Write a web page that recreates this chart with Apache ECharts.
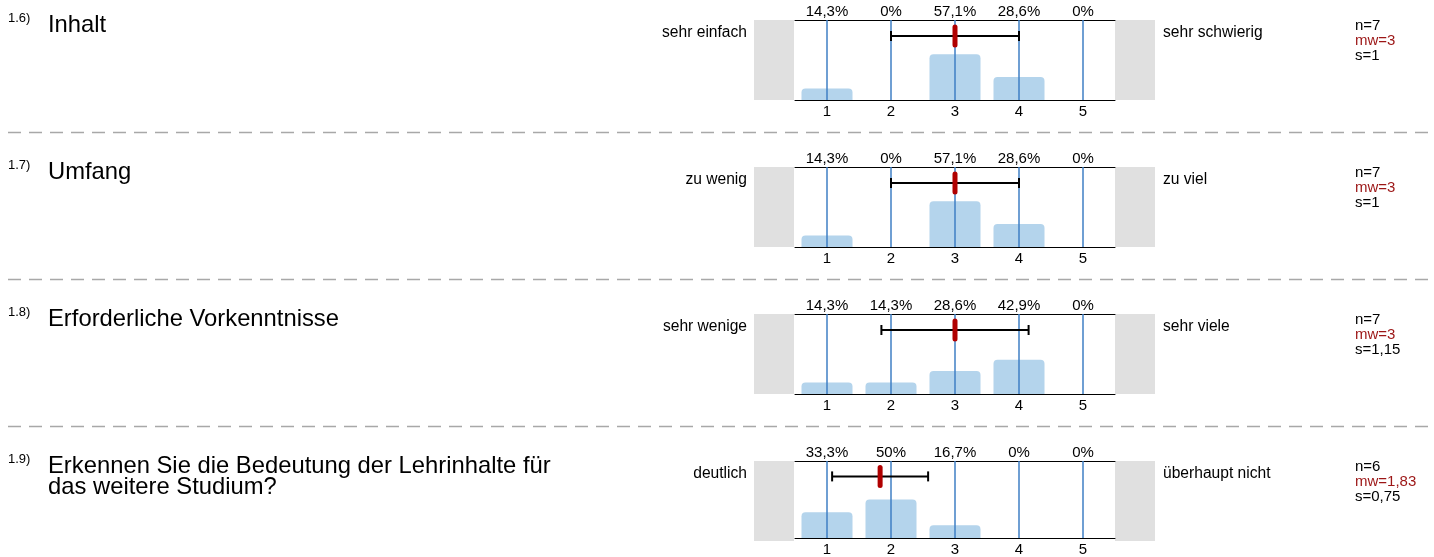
<!DOCTYPE html>
<html>
<head>
<meta charset="utf-8">
<script src="https://cdn.jsdelivr.net/npm/echarts@6/dist/echarts.min.js"></script>
<style>html,body{margin:0;padding:0;background:#fff}#c{width:1434px;height:557px}</style>
</head>
<body>
<div id="c"></div>
<script>
const categories = ['1', '2', '3', '4', '5'];
const questionNumbers = ['1.6)', '1.7)', '1.8)', '1.9)'];
const questionTitles = ['Inhalt', 'Umfang', 'Erforderliche Vorkenntnisse', 'Erkennen Sie die Bedeutung der Lehrinhalte für\ndas weitere Studium?'];
const leftLabels = ['sehr einfach', 'zu wenig', 'sehr wenige', 'deutlich'];
const rightLabels = ['sehr schwierig', 'zu viel', 'sehr viele', 'überhaupt nicht'];
const pct16 = [14.3, 0, 57.1, 28.6, 0];
const pct17 = [14.3, 0, 57.1, 28.6, 0];
const pct18 = [14.3, 14.3, 28.6, 42.9, 0];
const pct19 = [33.3, 50, 16.7, 0, 0];
const percentages = [pct16, pct17, pct18, pct19];
const nValues = [7, 7, 7, 6];
const meanValues = [3, 3, 3, 1.83];
const sdValues = [1, 1, 1.15, 0.75];

const FONT = '"Liberation Sans", Arial, Helvetica, sans-serif';
const fmt = v => String(v).replace('.', ',');
const PANEL_TOP = 20, PANEL_STEP = 147, PLOT_LEFT = 795, PLOT_W = 320, PLOT_H = 80;

const grid = [], xAxis = [], yAxis = [], series = [], graphic = [];
percentages.forEach((pct, i) => {
  const top = PANEL_TOP + PANEL_STEP * i;
  grid.push({left: PLOT_LEFT, width: PLOT_W, top: top, height: PLOT_H});
  xAxis.push({
    type: 'category', gridIndex: i, data: categories, position: 'bottom',
    axisLine: {lineStyle: {color: '#000', width: 1}}, axisTick: {show: false},
    axisLabel: {interval: 0, margin: 4, fontSize: 15, color: '#000', fontFamily: FONT},
    splitLine: {show: false}
  });
  xAxis.push({
    type: 'category', gridIndex: i, data: pct.map(v => fmt(v) + '%'), position: 'top',
    axisLine: {lineStyle: {color: '#000', width: 1}}, axisTick: {show: false},
    axisLabel: {interval: 0, margin: 0.5, fontSize: 15, color: '#000', fontFamily: FONT},
    splitLine: {show: false}
  });
  xAxis.push({type: 'value', gridIndex: i, min: 0.5, max: 5.5, show: false});
  yAxis.push({type: 'value', gridIndex: i, min: 0, max: 100, show: false});

  series.push({
    type: 'bar', xAxisIndex: 3 * i, yAxisIndex: i, data: pct, barWidth: 51,
    itemStyle: {color: '#b4d4ec', borderRadius: [4, 4, 0, 0]}, z: 2, silent: true
  });
  series.push({
    type: 'custom', xAxisIndex: 3 * i + 2, yAxisIndex: i, z: 3, silent: true,
    data: categories.map(c => [Number(c)]),
    renderItem: (params, api) => {
      const x = api.value(0);
      const p0 = api.coord([x, 0]), p1 = api.coord([x, 100]);
      return {type: 'line', shape: {x1: p0[0], y1: p0[1], x2: p1[0], y2: p1[1]},
        style: {stroke: '#3f7fc4', lineWidth: 1.5}};
    }
  });
  series.push({
    type: 'custom', xAxisIndex: 3 * i + 2, yAxisIndex: i, z: 4, silent: true,
    data: [[meanValues[i], sdValues[i]]],
    renderItem: (params, api) => {
      const m = api.value(0), s = api.value(1);
      const a = api.coord([m - s, 80]), b = api.coord([m + s, 80]), c = api.coord([m, 80]);
      return {type: 'group', children: [
        {type: 'line', shape: {x1: a[0], y1: a[1], x2: b[0], y2: b[1]}, style: {stroke: '#000', lineWidth: 2}},
        {type: 'line', shape: {x1: a[0], y1: a[1] - 5, x2: a[0], y2: a[1] + 5}, style: {stroke: '#000', lineWidth: 2}},
        {type: 'line', shape: {x1: b[0], y1: b[1] - 5, x2: b[0], y2: b[1] + 5}, style: {stroke: '#000', lineWidth: 2}},
        {type: 'line', shape: {x1: c[0], y1: c[1] - 9, x2: c[0], y2: c[1] + 9}, style: {stroke: '#b00000', lineWidth: 5, lineCap: 'round'}}
      ]};
    }
  });

  // grey end boxes
  graphic.push({type: 'rect', shape: {x: PLOT_LEFT - 41, y: top, width: 40, height: PLOT_H}, style: {fill: '#e0e0e0'}, z: -1});
  graphic.push({type: 'rect', shape: {x: PLOT_LEFT + PLOT_W, y: top, width: 40, height: PLOT_H}, style: {fill: '#e0e0e0'}, z: -1});
  // question number and title
  graphic.push({type: 'text', x: 8, y: top - 2, style: {text: questionNumbers[i], font: '13px ' + FONT, fill: '#000', verticalAlign: 'middle'}});
  graphic.push({type: 'text', x: 48, y: top - 5.5, style: {text: questionTitles[i], font: '23.8px ' + FONT, fill: '#000', verticalAlign: 'top', lineHeight: 21}});
  // pole labels
  graphic.push({type: 'text', x: 747, y: top + 13, style: {text: leftLabels[i], font: '15.6px ' + FONT, fill: '#000', align: 'right', verticalAlign: 'middle'}});
  graphic.push({type: 'text', x: 1163, y: top + 13, style: {text: rightLabels[i], font: '15.6px ' + FONT, fill: '#000', align: 'left', verticalAlign: 'middle'}});
  // stats
  graphic.push({type: 'text', x: 1355, y: top + 5.5, style: {text: 'n=' + nValues[i], font: '15px ' + FONT, fill: '#000', verticalAlign: 'middle'}});
  graphic.push({type: 'text', x: 1355, y: top + 20.5, style: {text: 'mw=' + fmt(meanValues[i]), font: '15px ' + FONT, fill: '#9c1616', verticalAlign: 'middle'}});
  graphic.push({type: 'text', x: 1355, y: top + 35.5, style: {text: 's=' + fmt(sdValues[i]), font: '15px ' + FONT, fill: '#000', verticalAlign: 'middle'}});
  // separator
  if (i < percentages.length - 1) {
    graphic.push({type: 'line', shape: {x1: 8, y1: top + 112.5, x2: 1434, y2: top + 112.5},
      style: {stroke: '#a8a8a8', lineWidth: 1.3, lineDash: [13, 8]}});
  }
});

const chart = echarts.init(document.getElementById('c'), null, {renderer: 'canvas'});
chart.setOption({animation: false, grid, xAxis, yAxis, series, graphic});
</script>
</body>
</html>
